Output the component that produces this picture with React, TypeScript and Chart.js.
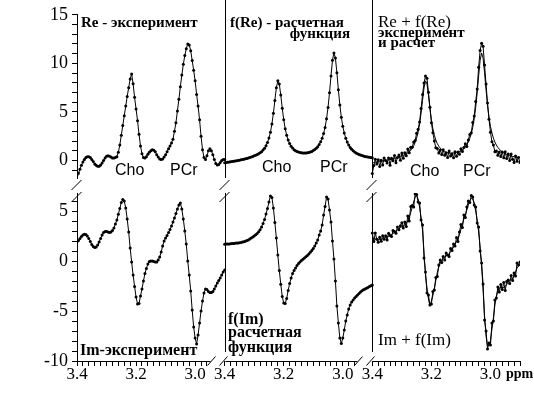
import React, { useEffect, useRef } from 'react';
import { Chart, registerables } from 'chart.js';

Chart.register(...registerables);

// ---------- data ----------
// chemical-shift grid (ppm), 3.40 -> 2.90 in 0.005 ppm steps
const PPM_MAX = 3.4;
const PPM = Array.from({ length: 101 }, (_, i) => +(PPM_MAX - 0.005 * i).toFixed(3));

const PANEL_STARTS = [0, 0.5, 1.0];
const X_TICK_LABELS = ['3.4', '3.2', '3.0'];
const TOP_Y_MAJOR = [0, 5, 10, 15];
const BOTTOM_Y_MAJOR = [-10, -5, 0, 5];

// Re - experiment
const RE_EXP = [
  -1.5, -1.3, -0.9, -0.5, -0.15, 0.1, 0.3, 0.4, 0.4, 0.3,
  0.1, -0.1, -0.35, -0.5, -0.6, -0.6, -0.45, -0.25, 0.0, 0.25,
  0.45, 0.5, 0.45, 0.35, 0.25, 0.25, 0.3, 0.4, 0.85, 1.6,
  2.6, 3.6, 4.6, 5.6, 6.6, 7.5, 8.4, 8.9, 7.9, 6.5,
  5.3, 4.1, 2.7, 1.5, 0.7, 0.3, 0.25, 0.4, 0.65, 0.85,
  1.0, 1.1, 1.05, 0.9, 0.6, 0.35, 0.15, 0.1, 0.15, 0.35,
  0.6, 0.9, 1.2, 1.5, 1.8, 2.2, 3.0, 3.9, 5.1, 6.3,
  7.6, 8.8, 9.9, 10.8, 11.5, 12.0, 11.9, 11.3, 10.3, 9.3,
  8.2, 6.8, 5.6, 4.2, 2.5, 1.1, 0.3, 0.1, 0.5, 1.0,
  1.2, 1.0, 0.6, 0.1, -0.3, -0.45, -0.4, -0.2, 0.0, 0.1,
  0.1,
];

// f(Re) - fitted function
const RE_FIT = [
  -0.23, -0.21, -0.18, -0.16, -0.13, -0.11, -0.08, -0.05, -0.03, 0.0,
  0.04, 0.07, 0.1, 0.14, 0.18, 0.22, 0.26, 0.31, 0.36, 0.42,
  0.48, 0.54, 0.61, 0.69, 0.79, 0.91, 1.07, 1.26, 1.51, 1.86,
  2.31, 2.91, 3.76, 4.86, 6.19, 7.48, 8.2, 7.88, 6.74, 5.38,
  4.2, 3.27, 2.6, 2.11, 1.74, 1.47, 1.28, 1.12, 1.01, 0.93,
  0.87, 0.82, 0.79, 0.77, 0.77, 0.78, 0.8, 0.83, 0.88, 0.94,
  1.02, 1.13, 1.25, 1.42, 1.64, 1.92, 2.29, 2.77, 3.41, 4.29,
  5.47, 6.97, 8.71, 10.32, 11.07, 10.55, 9.04, 7.28, 5.71, 4.46,
  3.52, 2.83, 2.3, 1.9, 1.59, 1.35, 1.17, 1.01, 0.88, 0.78,
  0.7, 0.62, 0.56, 0.51, 0.47, 0.42, 0.39, 0.36, 0.33, 0.31,
  0.29,
];

// Re experiment points shown with the fit (Re + f(Re))
const RE_EXP_OVERLAY = [
  -1.33, -0.51, 0.12, -0.36, 0.07, -0.61, 0.02, -0.45, 0.27, 0.0,
  -0.26, 0.27, -0.5, 0.24, -0.02, 0.52, -0.24, 0.31, 0.56, 0.02,
  0.78, 0.24, 0.81, 0.49, 1.19, 0.81, 1.37, 1.36, 1.91, 2.06,
  2.81, 3.21, 3.96, 5.36, 6.79, 7.98, 8.7, 8.48, 7.04, 5.48,
  3.9, 2.87, 2.0, 1.31, 1.24, 0.77, 1.08, 0.62, 1.11, 0.53,
  0.77, 0.32, 0.99, 0.47, 0.67, 0.28, 0.9, 0.43, 0.88, 0.64,
  1.22, 0.93, 1.35, 1.72, 1.44, 2.12, 2.69, 2.87, 3.91, 4.59,
  6.07, 7.37, 9.61, 11.32, 12.07, 11.75, 9.84, 7.88, 5.91, 4.26,
  2.92, 1.93, 1.6, 0.9, 0.99, 0.55, 0.87, 0.41, 0.88, 0.28,
  0.9, 0.22, 0.66, 0.01, 0.67, 0.12, -0.21, 0.46, -0.07, 0.31,
  -0.21,
];

// Im - experiment
const IM_EXP = [
  1.9, 2.05, 2.25, 2.45, 2.6, 2.67, 2.65, 2.5, 2.25, 1.95,
  1.65, 1.45, 1.35, 1.4, 1.6, 1.9, 2.25, 2.6, 2.85, 2.95,
  2.95, 2.9, 2.85, 2.9, 3.05, 3.3, 3.7, 4.1, 4.67, 5.25,
  5.85, 6.15, 6.0, 5.3, 4.2, 2.9, 1.3, -0.1, -1.4, -2.55,
  -3.6, -4.3, -4.25, -3.5, -2.8, -2.0, -1.25, -0.75, -0.3, -0.05,
  0.0, 0.0, -0.05, -0.1, -0.1, 0.1, 0.4, 0.9, 1.5, 2.0,
  2.3, 2.55, 2.85, 3.15, 3.5, 3.9, 4.3, 4.75, 5.2, 5.6,
  5.8, 5.2, 4.2, 3.0, 1.7, 0.0, -1.4, -3.0, -4.9, -6.6,
  -7.7, -8.3, -7.4, -6.2, -5.0, -4.0, -3.2, -2.8, -2.85, -3.05,
  -3.15, -3.15, -3.05, -2.8, -2.5, -2.2, -1.95, -1.7, -1.4, -1.1,
  -0.9,
];

// f(Im) - fitted function
const IM_FIT = [
  1.68, 1.69, 1.7, 1.71, 1.72, 1.74, 1.75, 1.77, 1.79, 1.81,
  1.83, 1.86, 1.89, 1.93, 1.98, 2.04, 2.11, 2.2, 2.3, 2.4,
  2.5, 2.62, 2.76, 2.92, 3.12, 3.4, 3.75, 4.15, 4.7, 5.25,
  5.9, 6.5, 6.35, 5.3, 3.85, 2.3, 0.6, -0.95, -2.33, -3.55,
  -4.2, -4.25, -3.75, -2.95, -2.25, -1.7, -1.25, -0.95, -0.7, -0.45,
  -0.25, -0.1, 0.05, 0.17, 0.3, 0.42, 0.55, 0.7, 0.88, 1.05,
  1.25, 1.5, 1.8, 2.1, 2.6, 3.0, 3.6, 4.6, 5.45, 6.4,
  6.2, 5.1, 3.9, 2.0, 0.2, -2.0, -4.5, -6.2, -7.7, -8.25,
  -7.7, -6.9, -6.0, -5.4, -4.8, -4.4, -4.1, -3.9, -3.7, -3.55,
  -3.4, -3.25, -3.1, -2.98, -2.88, -2.8, -2.72, -2.64, -2.56, -2.48,
  -2.4,
];

// Im + f(Im): fitted line and experiment points
const IM_FIT_OVERLAY = [
  2.3, 2.25, 2.2, 2.18, 2.17, 2.17, 2.18, 2.22, 2.27, 2.33,
  2.4, 2.48, 2.56, 2.65, 2.75, 2.85, 2.98, 3.1, 3.22, 3.33,
  3.43, 3.5, 3.6, 3.75, 4.0, 4.4, 4.85, 5.35, 5.9, 6.4,
  6.55, 6.2, 5.4, 4.3, 3.1, 0.9, -1.4, -2.7, -3.8, -4.5,
  -4.0, -3.45, -2.7, -1.95, -1.15, -0.6, -0.2, 0.05, 0.25, 0.4,
  0.5, 0.6, 0.75, 0.95, 1.15, 1.4, 1.7, 1.95, 2.25, 2.7,
  3.15, 3.65, 4.2, 4.65, 5.1, 5.6, 6.05, 6.25, 6.2, 5.8,
  5.0, 4.1, 2.9, 1.4, -0.5, -2.9, -5.5, -7.5, -8.5, -8.4,
  -8.0, -6.8, -5.7, -4.4, -3.5, -3.0, -2.7, -2.65, -2.65, -2.65,
  -2.55, -2.35, -2.1, -1.95, -1.85, -1.75, -1.5, -1.1, -0.7, -0.5,
  -0.4,
];
const IM_EXP_OVERLAY = [
  2.8, 1.95, 2.8, 2.18, 1.87, 2.37, 1.98, 2.52, 2.17, 2.53,
  2.1, 2.78, 2.56, 2.45, 3.05, 2.95, 2.78, 3.4, 3.12, 3.53,
  3.83, 3.3, 3.9, 3.45, 4.5, 4.0, 5.45, 5.55, 5.4, 6.7,
  6.65, 5.9, 5.8, 4.1, 3.6, 0.3, -1.1, -3.2, -3.4, -4.4,
  -4.3, -3.05, -2.9, -1.65, -1.55, -0.4, 0.1, -0.15, 0.45, 0.1,
  0.8, 0.6, 0.45, 1.25, 1.05, 1.7, 1.5, 2.35, 1.95, 2.9,
  3.65, 3.35, 4.6, 4.35, 5.4, 6.0, 5.85, 6.55, 6.4, 5.6,
  5.4, 3.8, 3.4, 1.0, -0.2, -2.3, -5.9, -7.0, -8.8, -8.2,
  -8.4, -6.2, -6.0, -3.9, -3.7, -2.6, -3.1, -2.35, -2.85, -2.15,
  -2.95, -2.05, -1.9, -2.25, -1.45, -1.95, -1.2, -1.5, -0.2, -0.4,
  -0.1,
];

// ---------- helpers ----------
const SERIF = '"Liberation Serif", "Times New Roman", serif';
const SANS = '"Liberation Sans", Arial, sans-serif';
const W = 534;
const H = 395;

const toPts = (vals: number[], panel: number) =>
  vals.map((v, i) => ({ x: PANEL_STARTS[panel] + (PPM_MAX - PPM[i]), y: v }));

const dotted = (vals: number[], panel: number) => ({
  data: toPts(vals, panel),
  borderColor: '#000',
  borderWidth: 1,
  pointRadius: 1.5,
  pointBackgroundColor: '#000',
  pointBorderWidth: 0,
  pointHoverRadius: 1.5,
  tension: 0,
});
const plain = (vals: number[], panel: number) => ({
  data: toPts(vals, panel),
  borderColor: '#000',
  borderWidth: 1,
  pointRadius: 0,
  tension: 0,
});

// x ticks every 0.02 ppm in each panel
const X_TICK_VALUES: number[] = [];
const X_TICK_TEXT: string[] = [];
PANEL_STARTS.forEach((start, p) => {
  const kmax = p === 2 ? 25 : 22;
  for (let k = 0; k <= kmax; k++) {
    X_TICK_VALUES.push(start + k * 0.02);
    const ppm = (PPM_MAX - k * 0.02).toFixed(1);
    X_TICK_TEXT.push(k % 10 === 0 && X_TICK_LABELS.includes(ppm) ? ppm : '');
  }
});

type Txt = { t: string; x: number; y: number; font: string; align?: CanvasTextAlign };

const TOP_TEXT: Txt[] = [
  { t: 'Re - эксперимент', x: 81, y: 27, font: `bold 15px ${SERIF}` },
  { t: 'f(Re) - расчетная', x: 230, y: 27, font: `bold 15px ${SERIF}` },
  { t: 'функция', x: 350, y: 38, font: `bold 15px ${SERIF}`, align: 'right' },
  { t: 'Re + f(Re)', x: 378, y: 27, font: `17px ${SERIF}` },
  { t: 'эксперимент', x: 378, y: 37, font: `bold 15px ${SERIF}` },
  { t: 'и расчет', x: 378, y: 47, font: `bold 15px ${SERIF}` },
  { t: 'Cho', x: 115, y: 175, font: `16px ${SANS}` },
  { t: 'PCr', x: 170, y: 175, font: `16px ${SANS}` },
  { t: 'Cho', x: 262, y: 172, font: `16px ${SANS}` },
  { t: 'PCr', x: 320, y: 172, font: `16px ${SANS}` },
  { t: 'Cho', x: 410, y: 176, font: `16px ${SANS}` },
  { t: 'PCr', x: 463, y: 176, font: `16px ${SANS}` },
];
const BOTTOM_TEXT: Txt[] = [
  { t: 'Im-эксперимент', x: 80, y: 355, font: `bold 16px ${SERIF}` },
  { t: 'f(Im)', x: 228, y: 324, font: `bold 16px ${SERIF}` },
  { t: 'расчетная', x: 228, y: 337, font: `bold 16px ${SERIF}` },
  { t: 'функция', x: 228, y: 352, font: `bold 16px ${SERIF}` },
  { t: 'Im + f(Im)', x: 378, y: 345, font: `17px ${SERIF}` },
  { t: 'ppm', x: 506, y: 378, font: `bold 14px ${SERIF}` },
];

const drawTexts = (ctx: CanvasRenderingContext2D, list: Txt[]) => {
  ctx.fillStyle = '#000';
  ctx.textBaseline = 'alphabetic';
  list.forEach((d) => {
    ctx.font = d.font;
    ctx.textAlign = d.align || 'left';
    ctx.fillText(d.t, d.x, d.y);
  });
};

const line = (ctx: CanvasRenderingContext2D, x1: number, y1: number, x2: number, y2: number) => {
  ctx.beginPath();
  ctx.moveTo(x1, y1);
  ctx.lineTo(x2, y2);
  ctx.stroke();
};

const topDeco = {
  id: 'topDeco',
  afterDraw(chart: any) {
    const { ctx, chartArea: a } = chart;
    const xs = chart.scales.x;
    ctx.save();
    ctx.strokeStyle = '#000';
    ctx.lineWidth = 1;
    PANEL_STARTS.slice(1).forEach((v) => {
      const px = Math.round(xs.getPixelForValue(v)) + 0.5;
      line(ctx, px, 0, px, a.bottom);
    });
    drawTexts(ctx, TOP_TEXT);
    ctx.restore();
  },
};

const bottomDeco = {
  id: 'bottomDeco',
  afterDraw(chart: any) {
    const { ctx, chartArea: a } = chart;
    const xs = chart.scales.x;
    ctx.save();
    ctx.strokeStyle = '#000';
    ctx.lineWidth = 1;
    const seps = PANEL_STARTS.slice(1).map((v) => Math.round(xs.getPixelForValue(v)) + 0.5);
    seps.forEach((px) => line(ctx, px, a.top, px, a.bottom - 9));
    // axis breaks between the two rows
    [Math.round(a.left) + 0.5, ...seps].forEach((px) => {
      line(ctx, px - 6, 190, px + 4, 180);
      line(ctx, px - 6, 202, px + 4, 192);
    });
    // broken x axis
    const ay = Math.round(a.bottom) + 0.5;
    const ends = [seps[0] - 15, seps[1] - 15, a.right + 1];
    const starts = [a.left, seps[0], seps[1]];
    starts.forEach((s, i) => line(ctx, s, ay, ends[i], ay));
    seps.forEach((px) => {
      line(ctx, px - 18, ay + 4, px - 10, ay - 5);
      line(ctx, px - 6, ay + 4, px + 2, ay - 5);
    });
    drawTexts(ctx, BOTTOM_TEXT);
    ctx.restore();
  },
};

const makeConfig = (
  datasets: any[],
  yMin: number,
  yMax: number,
  yMajor: number[],
  padTop: number,
  padBottom: number,
  showX: boolean,
  deco: any
): any => {
  const yTicks: number[] = [];
  for (let v = Math.ceil(yMin); v <= Math.floor(yMax); v++) yTicks.push(v);
  return {
    type: 'line',
    data: { datasets },
    plugins: [deco],
    options: {
      animation: false,
      responsive: false,
      devicePixelRatio: 1,
      events: [],
      layout: { padding: { left: 0, right: 14, top: padTop, bottom: padBottom } },
      plugins: { legend: { display: false }, tooltip: { enabled: false } },
      scales: {
        x: {
          type: 'linear',
          min: 0,
          max: 1.5,
          display: showX,
          border: { display: false },
          grid: { drawOnChartArea: false, drawTicks: true, tickLength: 5, color: '#000' },
          afterBuildTicks: (s: any) => {
            s.ticks = X_TICK_VALUES.map((value) => ({ value }));
          },
          afterFit: (s: any) => {
            s.height = showX ? 34 : 0;
          },
          ticks: {
            autoSkip: false,
            maxRotation: 0,
            minRotation: 0,
            padding: -2,
            color: '#000',
            font: { family: SERIF, size: 17 },
            callback: (_v: any, i: number) => X_TICK_TEXT[i],
          },
        },
        y: {
          type: 'linear',
          min: yMin,
          max: yMax,
          border: { display: true, color: '#000', width: 1 },
          grid: { drawOnChartArea: false, drawTicks: true, tickLength: 5, color: '#000' },
          afterBuildTicks: (s: any) => {
            s.ticks = yTicks.map((value) => ({ value }));
          },
          afterFit: (s: any) => {
            s.width = 77;
          },
          ticks: {
            autoSkip: false,
            padding: 4,
            color: '#000',
            font: { family: SERIF, size: 18 },
            callback: (v: number) => (yMajor.includes(v) ? String(v) : ''),
          },
        },
      },
    },
  };
};

export default function App() {
  const topRef = useRef<HTMLCanvasElement>(null);
  const botRef = useRef<HTMLCanvasElement>(null);

  useEffect(() => {
    const top = new Chart(
      topRef.current as HTMLCanvasElement,
      makeConfig(
        [dotted(RE_EXP, 0), dotted(RE_FIT, 1), plain(RE_FIT, 2), dotted(RE_EXP_OVERLAY, 2)],
        -1.8,
        15,
        TOP_Y_MAJOR,
        13,
        H - 178,
        false,
        topDeco
      )
    );
    const bottom = new Chart(
      botRef.current as HTMLCanvasElement,
      makeConfig(
        [dotted(IM_EXP, 0), dotted(IM_FIT, 1), plain(IM_FIT_OVERLAY, 2), dotted(IM_EXP_OVERLAY, 2)],
        -10,
        6.8,
        BOTTOM_Y_MAJOR,
        193,
        0,
        true,
        bottomDeco
      )
    );
    return () => {
      top.destroy();
      bottom.destroy();
    };
  }, []);

  return (
    <div style={{ position: 'absolute', left: 0, top: 0, width: W, height: H, background: '#fff', overflow: 'hidden' }}>
      <canvas ref={topRef} width={W} height={H} style={{ position: 'absolute', left: 0, top: 0 }} />
      <canvas ref={botRef} width={W} height={H} style={{ position: 'absolute', left: 0, top: 0 }} />
    </div>
  );
}
